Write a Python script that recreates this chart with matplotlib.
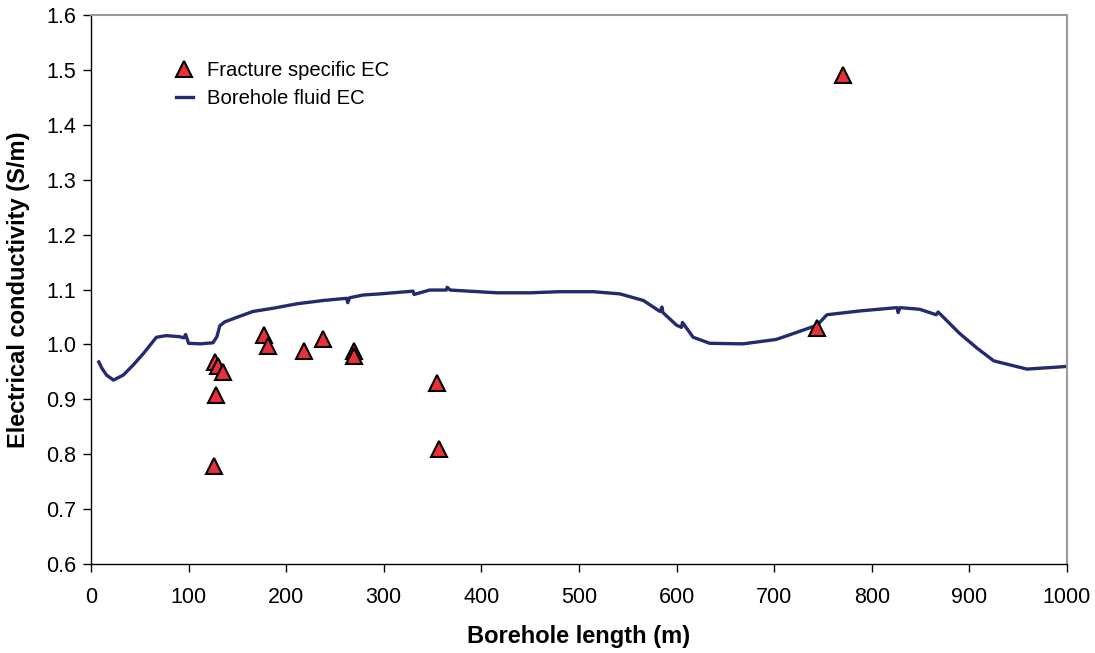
import matplotlib.pyplot as plt

plt.rcParams['font.family'] = ['Liberation Sans', 'DejaVu Sans']

# fracture specific EC (triangles)
frac_x = [126, 127, 128, 130, 135, 177, 181, 218, 238, 269, 269, 355, 357, 744, 771]
frac_y = [0.778, 0.968, 0.908, 0.960, 0.950, 1.018, 0.997, 0.988, 1.009, 0.988, 0.978,
          0.929, 0.809, 1.029, 1.491]

# borehole fluid EC (line)
bh_x = [8, 11, 16, 23, 33, 43, 54, 67, 77, 91, 95, 97, 100, 112, 125, 129, 132, 137,
        149, 166, 187, 211, 238, 262, 263, 265, 279, 296, 330, 331, 347, 364, 365, 368,
        416, 450, 480, 515, 542, 566, 583, 585, 586, 600, 605, 606, 617, 634, 668, 702,
        720, 744, 754, 788, 826, 827, 829, 849, 866, 868, 890, 908, 925, 959, 993, 1000]
bh_y = [0.968, 0.957, 0.944, 0.935, 0.944, 0.962, 0.984, 1.013, 1.016, 1.014, 1.012,
        1.018, 1.002, 1.001, 1.003, 1.014, 1.034, 1.041, 1.049, 1.060, 1.066, 1.074,
        1.080, 1.084, 1.076, 1.085, 1.090, 1.092, 1.097, 1.091, 1.099, 1.099, 1.104,
        1.099, 1.094, 1.094, 1.096, 1.096, 1.092, 1.080, 1.060, 1.068, 1.058, 1.035,
        1.031, 1.040, 1.013, 1.002, 1.001, 1.009, 1.020, 1.035, 1.054, 1.061, 1.067,
        1.058, 1.067, 1.064, 1.054, 1.059, 1.020, 0.993, 0.970, 0.955, 0.959, 0.960]

fig = plt.figure(figsize=(10.95, 6.53), dpi=100)
ax = fig.add_axes([0.0831, 0.1363, 0.8913, 0.8407])

ax.plot(frac_x, frac_y, linestyle='none', marker='^', markersize=12,
        markerfacecolor='#e8303a', markeredgecolor='black', markeredgewidth=1.5,
        label='Fracture specific EC', zorder=3)
ax.plot(bh_x, bh_y, color='#232a6e', linewidth=2.4, label='Borehole fluid EC', zorder=2)

ax.set_xlim(0, 1000)
ax.set_ylim(0.6, 1.6)
ax.set_xticks(range(0, 1001, 100))
ax.set_yticks([0.6 + 0.1 * i for i in range(11)])
ax.set_yticklabels(['%.1f' % (0.6 + 0.1 * i) for i in range(11)])
ax.tick_params(labelsize=15.5, direction='out', length=5.5, width=1, colors='black')
ax.tick_params(axis='x', pad=11)
ax.tick_params(axis='y', pad=5)

for s in ['top', 'right']:
    ax.spines[s].set_color('#999999')
    ax.spines[s].set_linewidth(1.5)
for s in ['left', 'bottom']:
    ax.spines[s].set_color('black')
    ax.spines[s].set_linewidth(1)

ax.set_xlabel('Borehole length (m)', fontsize=17, fontweight='bold', labelpad=12)
ax.set_ylabel('Electrical conductivity (S/m)', fontsize=17, fontweight='bold', labelpad=12)

ax.legend(loc='upper left', bbox_to_anchor=(0.068, 0.95), frameon=False, fontsize=14.6,
          handlelength=0.85, handletextpad=0.7, labelspacing=0.45)

fig.savefig('out.png')
